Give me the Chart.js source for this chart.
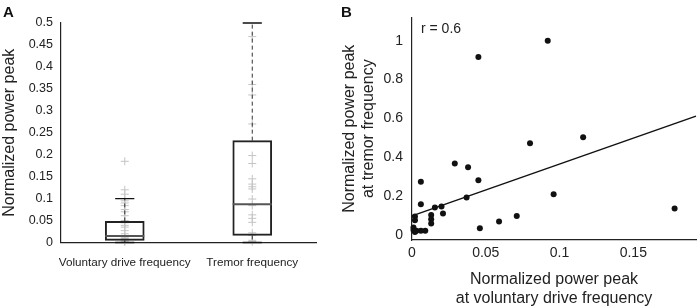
<!DOCTYPE html>
<html>
<head>
<meta charset="utf-8">
<script src="https://cdn.jsdelivr.net/npm/chart.js@4"></script>
<style>
  body { margin: 0; background: #fff; width: 700px; height: 308px; position: relative; overflow: hidden; font-family: "Liberation Sans", Arial, sans-serif; }
  .panel { position: absolute; top: 0; height: 308px; }
  #wrapA { left: 0; width: 335px; }
  #wrapB { left: 335px; width: 365px; }
  .letter { position: absolute; font-weight: bold; font-size: 15px; line-height: 15px; color: #111; }
  #rlabel { position: absolute; left: 421px; top: 21px; font-size: 14px; line-height: 14px; color: #222; }
</style>
</head>
<body>
<div class="panel" id="wrapA"><canvas id="chartA" width="335" height="308"></canvas></div>
<div class="panel" id="wrapB"><canvas id="chartB" width="365" height="308"></canvas></div>
<div class="letter" style="left:3px; top:4px;">A</div>
<div class="letter" style="left:341px; top:4px;">B</div>
<div id="rlabel">r = 0.6</div>
<script>
// panel A - box plots
const boxCategories = ['Voluntary drive frequency', 'Tremor frequency'];
const boxQ1 = [0.005, 0.016];
const boxMedian = [0.015, 0.087];
const boxQ3 = [0.048, 0.232];
const whiskerLow = [0, 0];
const whiskerHigh = [0.1, 0.5];
const voluntaryPoints = [0.185, 0.12, 0.11, 0.1, 0.095, 0.09, 0.084, 0.075, 0.07, 0.061, 0.05, 0.045,
    0.039, 0.035, 0.027, 0.02, 0.016, 0.012, 0.009, 0.005, 0.003, 0.001];
const tremorPoints = [0.469, 0.36, 0.336, 0.27, 0.198, 0.18, 0.145, 0.133, 0.127, 0.122, 0.099, 0.084,
    0.063, 0.055, 0.046, 0.022, 0.016, 0.005, 0.002];
const yTicksA = [0, 0.05, 0.1, 0.15, 0.2, 0.25, 0.3, 0.35, 0.4, 0.45, 0.5];

// panel B - scatter
const voluntaryPeak = [0.045, 0.092, 0.080, 0.116, 0.029, 0.038, 0.045, 0.006, 0.037, 0.096, 0.178,
    0.006, 0.0155, 0.020, 0.021, 0.013, 0.013, 0.013, 0.002, 0.002, 0.071, 0.059, 0.046,
    0.001, 0.001, 0.003, 0.006, 0.009, 0.002];
const tremorPeak = [0.916, 1.0, 0.473, 0.504, 0.369, 0.349, 0.282, 0.275, 0.193, 0.21, 0.137,
    0.159, 0.142, 0.147, 0.111, 0.103, 0.082, 0.06, 0.096, 0.077, 0.099, 0.07, 0.036,
    0.039, 0.026, 0.022, 0.022, 0.022, 0.016];
const fitX = [0, 0.1925];
const fitY = [0.099, 0.612];
const xTicksB = [0, 0.05, 0.1, 0.15];
const yTicksB = [0, 0.2, 0.4, 0.6, 0.8, 1];

const font = 'Liberation Sans';
const boxHalf = 0.153;  // box half width in category units
const capHalf = 0.075;

// build the line segments of the box plot
const whiskerData = [], capData = [], medianData = [];
boxCategories.forEach((c, i) => {
    const x = i + 1;
    whiskerData.push({x: x, y: boxQ3[i]}, {x: x, y: whiskerHigh[i]}, {x: x, y: null},
                     {x: x, y: boxQ1[i]}, {x: x, y: whiskerLow[i]}, {x: x, y: null});
    capData.push({x: x - capHalf, y: whiskerHigh[i]}, {x: x + capHalf, y: whiskerHigh[i]}, {x: x, y: null},
                 {x: x - capHalf, y: whiskerLow[i]}, {x: x + capHalf, y: whiskerLow[i]}, {x: x, y: null});
    medianData.push({x: x - boxHalf, y: boxMedian[i]}, {x: x + boxHalf, y: boxMedian[i]}, {x: x, y: null});
});

const pointsA = voluntaryPoints.map(v => ({x: 1, y: v}))
    .concat(tremorPoints.map(v => ({x: 2, y: v})));

new Chart(document.getElementById('chartA'), {
    data: {
        datasets: [
            {
                type: 'scatter',
                data: pointsA,
                pointStyle: 'cross',
                pointRadius: 4,
                borderColor: '#c4c4c4',
                borderWidth: 1,
                clip: false,
                order: 5
            },
            {
                type: 'bar',
                data: boxCategories.map((c, i) => ({x: i + 1, y: [boxQ1[i], boxQ3[i]]})),
                backgroundColor: 'rgba(0,0,0,0)',
                borderColor: '#222',
                borderWidth: 1.3,
                borderSkipped: false,
                barThickness: 39,
                order: 1
            },
            {
                type: 'line',
                data: whiskerData,
                borderColor: '#333',
                borderWidth: 1,
                borderDash: [4, 3],
                pointRadius: 0,
                spanGaps: false,
                clip: false,
                order: 2
            },
            {
                type: 'line',
                data: capData,
                borderColor: '#111',
                borderWidth: 1.3,
                pointRadius: 0,
                spanGaps: false,
                clip: false,
                order: 1
            },
            {
                type: 'line',
                data: medianData,
                borderColor: '#555',
                borderWidth: 2,
                pointRadius: 0,
                spanGaps: false,
                order: 0
            }
        ]
    },
    options: {
        responsive: false,
        animation: false,
        layout: { padding: { top: 23, right: 19, left: 0, bottom: 0 } },
        plugins: { legend: { display: false }, tooltip: { enabled: false } },
        scales: {
            x: {
                type: 'linear',
                offset: false,
                min: 0.5,
                max: 2.5,
                grid: { drawOnChartArea: false, drawTicks: false, offset: false },
                border: { color: '#222', width: 1.2 },
                afterBuildTicks: s => { s.ticks = [1, 2].map(v => ({value: v})); },
                afterFit: s => { s.height = 65.5; },
                ticks: {
                    autoSkip: false,
                    maxRotation: 0,
                    padding: 13,
                    color: '#222',
                    font: { family: font, size: 11.7 },
                    callback: v => boxCategories[Math.round(v) - 1]
                }
            },
            y: {
                min: 0,
                max: 0.5,
                grid: { drawOnChartArea: false, drawTicks: false },
                border: { color: '#222', width: 1.2 },
                afterBuildTicks: s => { s.ticks = yTicksA.map(v => ({value: v})); },
                afterFit: s => { s.width = 61; },
                ticks: {
                    padding: 8,
                    color: '#222',
                    font: { family: font, size: 12.5 },
                    callback: v => String(v)
                },
                title: {
                    display: true,
                    text: 'Normalized power peak',
                    color: '#222',
                    padding: 0,
                    font: { family: font, size: 16 }
                }
            }
        }
    }
});

new Chart(document.getElementById('chartB'), {
    data: {
        datasets: [
            {
                type: 'scatter',
                data: voluntaryPeak.map((v, i) => ({x: v, y: tremorPeak[i]})),
                pointRadius: 3,
                backgroundColor: '#111',
                borderColor: '#111',
                borderWidth: 0,
                clip: false,
                order: 1
            },
            {
                type: 'line',
                data: fitX.map((v, i) => ({x: v, y: fitY[i]})),
                borderColor: '#111',
                borderWidth: 1.5,
                pointRadius: 0,
                clip: false,
                order: 0
            }
        ]
    },
    options: {
        responsive: false,
        animation: false,
        layout: { padding: { top: 17, right: 0, left: 0, bottom: 0 } },
        plugins: { legend: { display: false }, tooltip: { enabled: false } },
        scales: {
            x: {
                type: 'linear',
                min: 0,
                max: 0.1925,
                grid: { drawOnChartArea: false, drawTicks: false },
                border: { color: '#222', width: 1.2 },
                afterBuildTicks: s => { s.ticks = xTicksB.map(v => ({value: v})); },
                afterFit: s => { s.height = 68; },
                ticks: {
                    padding: 5,
                    color: '#222',
                    font: { family: font, size: 14 },
                    callback: v => String(v)
                },
                title: {
                    display: true,
                    text: ['Normalized power peak', 'at voluntary drive frequency'],
                    color: '#222',
                    padding: 0,
                    font: { family: font, size: 16 }
                }
            },
            y: {
                type: 'linear',
                min: -0.025,
                max: 1.12,
                grid: { drawOnChartArea: false, drawTicks: false },
                border: { color: '#222', width: 1.2 },
                afterBuildTicks: s => { s.ticks = yTicksB.map(v => ({value: v})); },
                afterFit: s => { s.width = 77; },
                ticks: {
                    padding: 9,
                    color: '#222',
                    font: { family: font, size: 14 },
                    callback: v => String(v)
                },
                title: {
                    display: true,
                    text: ['Normalized power peak', 'at tremor frequency'],
                    color: '#222',
                    padding: { top: 5, bottom: 0 },
                    font: { family: font, size: 16 }
                }
            }
        }
    }
});
</script>
</body>
</html>
